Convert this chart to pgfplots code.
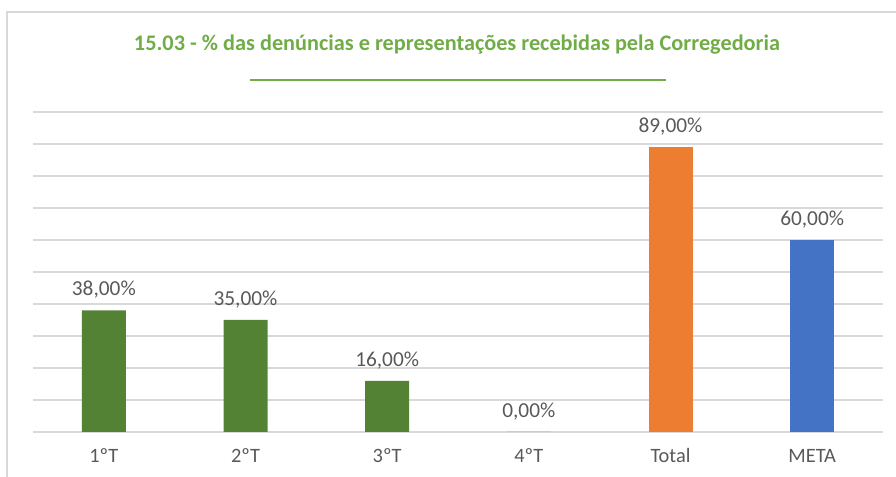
\documentclass[border=0pt]{standalone}
\usepackage{pgfplots}
\pgfplotsset{compat=1.18}
\usepackage{fontspec}
\setmainfont{Carlito}
\definecolor{gridgray}{HTML}{D9D9D9}
\definecolor{txtgray}{HTML}{595959}
\definecolor{titlegreen}{HTML}{70AD47}
\definecolor{bargreen}{HTML}{548235}
\definecolor{barorange}{HTML}{ED7D31}
\definecolor{barblue}{HTML}{4472C4}
\begin{document}
\begin{tikzpicture}
\path[use as bounding box] (0,0) rectangle (672pt,357.75pt);
\draw[gridgray, line width=1.1pt] (5.25pt,0pt) -- (5.25pt,348.75pt) -- (672pt,348.75pt);
\node[font=\fontsize{16.7}{20}\selectfont\bfseries, text=titlegreen, anchor=center] at (342.75pt,324pt) {15.03 - \% das denúncias e representações recebidas pela Corregedoria};
\draw[titlegreen, line width=2pt] (187.5pt,297.75pt) -- (499.5pt,297.75pt);
\begin{axis}[
  at={(24.75pt,33.75pt)}, anchor=south west,
  scale only axis, width=637.5pt, height=240pt,
  xmin=-0.5, xmax=5.5, ymin=0, ymax=100,
  enlargelimits=false,
  axis line style={draw=none},
  major tick length=0pt,
  ytick={0,10,...,100}, yticklabels={},
  ymajorgrids, grid style={gridgray, line width=1.1pt},
  xtick={0,1,2,3,4,5},
  xticklabels={1ºT,2ºT,3ºT,4ºT,Total,META},
  xticklabel style={font=\fontsize{15.3}{18}\selectfont, text=txtgray, anchor=base, yshift=-23pt},
  ybar, bar width=33pt, bar shift=0pt,
  /pgf/number format/assume math mode=true,
  nodes near coords={\pgfmathprintnumber[fixed,fixed zerofill,precision=2,use comma]{\pgfplotspointmeta}\%},
  nodes near coords style={font=\fontsize{16}{19}\selectfont, text=txtgray, anchor=base, yshift=11pt, inner sep=0pt},
  clip=false,
]
\addplot[fill=bargreen, draw=none] coordinates {(0,38) (1,35) (2,16) (3,0)};
\addplot[fill=barorange, draw=none] coordinates {(4,89)};
\addplot[fill=barblue, draw=none] coordinates {(5,60)};
\end{axis}
\end{tikzpicture}
\end{document}
